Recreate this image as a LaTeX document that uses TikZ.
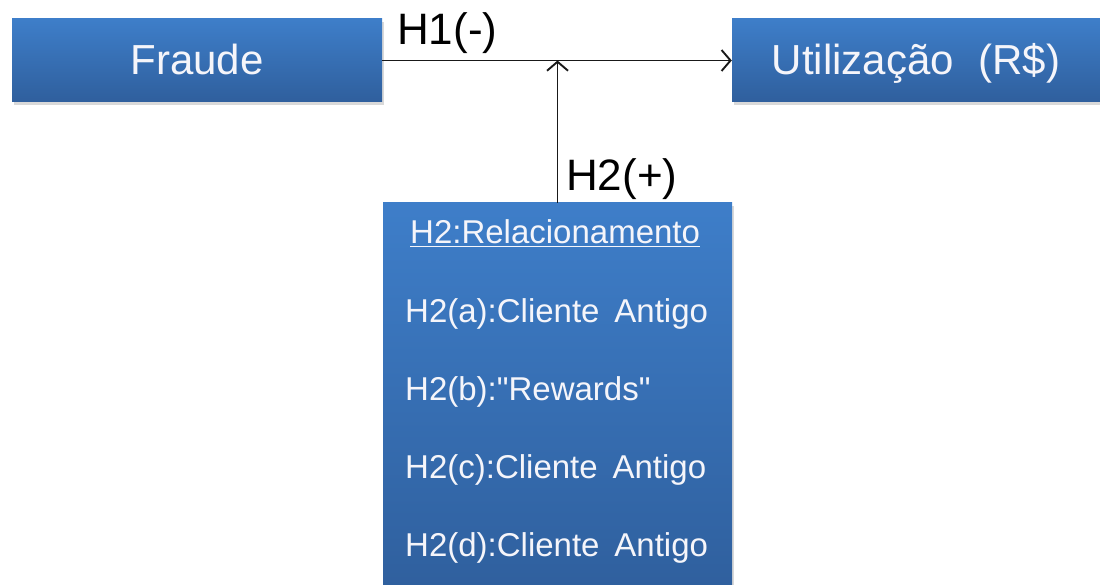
\documentclass[tikz,border=0pt]{standalone}
\usepackage{fontspec}
\setmainfont{Liberation Sans}[Ligatures=TeXOff]
\usetikzlibrary{arrows.meta,shadows}
\definecolor{boxtop}{RGB}{62,126,201}
\definecolor{boxbot}{RGB}{47,95,157}
\definecolor{linecol}{RGB}{25,25,25}
\definecolor{itemtext}{RGB}{245,245,250}
\begin{document}
\begin{tikzpicture}[x=1pt,y=-1pt,
  box/.style={draw=none, top color=boxtop, bottom color=boxbot, inner sep=0pt,
    drop shadow={shadow xshift=2pt, shadow yshift=-3pt, opacity=0.25, fill=black!60}},
  big/.style={font=\fontsize{42}{50}\selectfont, text=itemtext, inner sep=0pt},
  lab/.style={font=\fontsize{44}{52}\selectfont, text=black, inner sep=0pt, anchor=base west},
  item/.style={font=\fontsize{33}{40}\selectfont, text=itemtext, anchor=base west, inner sep=0pt},
  conn/.style={draw=linecol, line width=1.9pt, -{Straight Barb[length=9pt,width=21pt,line width=1.9pt]}}]
\useasboundingbox (0,0) rectangle (1100,585);
\clip (0,0) rectangle (1100,585);
\node[box, minimum width=370pt, minimum height=83pt] (fraude) at (197,60.5) {};
\node[box, minimum width=368pt, minimum height=83pt] (util) at (916,60.5) {};
\node[box, minimum width=349pt, minimum height=392pt] (rel) at (557.5,399) {};
\node[big, anchor=base] (tfraude) at (197,75) {Fraude};
\node[big, anchor=base] (tutil) at (916,75) {Utilização\hspace{0.58em}(R\$)};
\node[item] (r0) at (410,244) {\underline{H2:Relacionamento}};
\node[item] (r1) at (405,322) {H2(a):Cliente\hspace{0.45em}Antigo};
\node[item] (r2) at (405,400) {H2(b):"Rewards"};
\node[item] (r3) at (405,478) {H2(c):Cliente\hspace{0.45em}Antigo};
\node[item] (r4) at (405,556) {H2(d):Cliente\hspace{0.45em}Antigo};
\draw[conn] (fraude.east) -- (util.west);
\coordinate (join) at (rel.north |- fraude.east);
\draw[conn] (rel.north) -- (join);
\node[lab] (h1) at (397,45) {H1(-)};
\node[lab] (h2) at (566,191) {H2(+)};
\end{tikzpicture}
\end{document}
